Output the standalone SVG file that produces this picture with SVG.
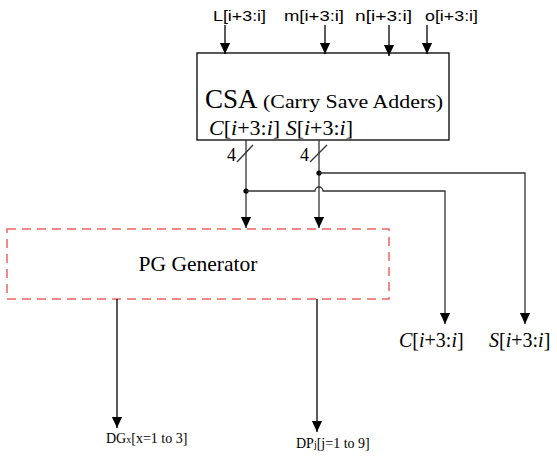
<svg xmlns="http://www.w3.org/2000/svg" width="557" height="456" viewBox="0 0 557 456">
<defs>
<marker id="ad" markerUnits="userSpaceOnUse" markerWidth="12" markerHeight="14" refX="13" refY="6" orient="auto" viewBox="0 0 14 12">
<path d="M0,0 L13,6 L0,12 Z" fill="#000"/>
</marker>
<style>
.ln{stroke:#000;stroke-width:1.3;fill:none}
.w{stroke:#333;stroke-width:1.3;fill:none}
.sans{font-family:"Liberation Sans",Arial,sans-serif;fill:#000}
.ser{font-family:"Liberation Serif","Times New Roman",serif;fill:#000}
.it{font-style:italic}
</style>
</defs>
<rect width="557" height="456" fill="#fff"/>

<g id="inputs">
<text class="sans" x="213" y="21" font-size="15" textLength="53" lengthAdjust="spacingAndGlyphs">L[i+3:i]</text>
<text class="sans" x="284" y="21" font-size="15" textLength="60" lengthAdjust="spacingAndGlyphs">m[i+3:i]</text>
<text class="sans" x="355" y="21" font-size="15" textLength="57" lengthAdjust="spacingAndGlyphs">n[i+3:i]</text>
<text class="sans" x="425" y="21" font-size="15" textLength="53" lengthAdjust="spacingAndGlyphs">o[i+3:i]</text>
</g>

<g id="csa">
<rect x="197" y="53" width="252" height="87" fill="#fff" stroke="#000" stroke-width="1.3"/>
<text class="ser" x="205" y="108" font-size="27">CSA</text>
<text class="ser" x="263" y="108" font-size="19" textLength="180" lengthAdjust="spacingAndGlyphs">(Carry Save Adders)</text>
<text class="ser it" x="209" y="135" font-size="22">C<tspan font-style="normal">[</tspan>i<tspan font-style="normal">+3:</tspan>i<tspan font-style="normal">]</tspan> S<tspan font-style="normal">[</tspan>i<tspan font-style="normal">+3:</tspan>i<tspan font-style="normal">]</tspan></text>
</g>

<g id="pg">
<rect x="7" y="229" width="382" height="70" fill="none" stroke="#f06464" stroke-width="1.5" stroke-dasharray="9,6"/>
<text class="ser" x="198" y="271" font-size="21.5" text-anchor="middle">PG Generator</text>
</g>

<g id="outputs">
<text class="ser it" x="399" y="347" font-size="20">C<tspan font-style="normal">[</tspan>i<tspan font-style="normal">+3:</tspan>i<tspan font-style="normal">]</tspan></text>
<text class="ser it" x="489" y="347" font-size="20">S<tspan font-style="normal">[</tspan>i<tspan font-style="normal">+3:</tspan>i<tspan font-style="normal">]</tspan></text>
<text class="ser" x="106" y="443" font-size="14">DG<tspan font-size="10">x</tspan>[x=1 to 3]</text>
<text class="ser" x="296" y="448" font-size="14">DP<tspan font-size="10">j</tspan>[j=1 to 9]</text>
</g>

<g id="connectors">
<line class="ln" x1="225" y1="25" x2="225" y2="54" marker-end="url(#ad)"/>
<line class="ln" x1="325" y1="25" x2="325" y2="54" marker-end="url(#ad)"/>
<line class="ln" x1="389" y1="25" x2="389" y2="56" marker-end="url(#ad)"/>
<line class="ln" x1="427" y1="25" x2="427" y2="54" marker-end="url(#ad)"/>

<line class="w" x1="246" y1="140" x2="246" y2="228" marker-end="url(#ad)"/>
<line class="w" x1="319" y1="140" x2="319" y2="228" marker-end="url(#ad)"/>
<line class="w" x1="237" y1="162" x2="253" y2="145"/>
<line class="w" x1="310" y1="162" x2="327" y2="145"/>
<text class="ser" x="227" y="161" font-size="18">4</text>
<text class="ser" x="300" y="161" font-size="18">4</text>

<circle cx="319" cy="173" r="2.6" fill="#000"/>
<circle cx="246" cy="191" r="2.6" fill="#000"/>
<polyline class="w" points="319,173 525,173 525,324" marker-end="url(#ad)"/>
<path class="w" d="M246,191 H315 A4,4 0 0 1 323,191 H445 V324" marker-end="url(#ad)"/>

<line class="ln" x1="117" y1="299" x2="117" y2="428" marker-end="url(#ad)"/>
<line class="ln" x1="317" y1="299" x2="317" y2="432" marker-end="url(#ad)"/>
</g>
</svg>
